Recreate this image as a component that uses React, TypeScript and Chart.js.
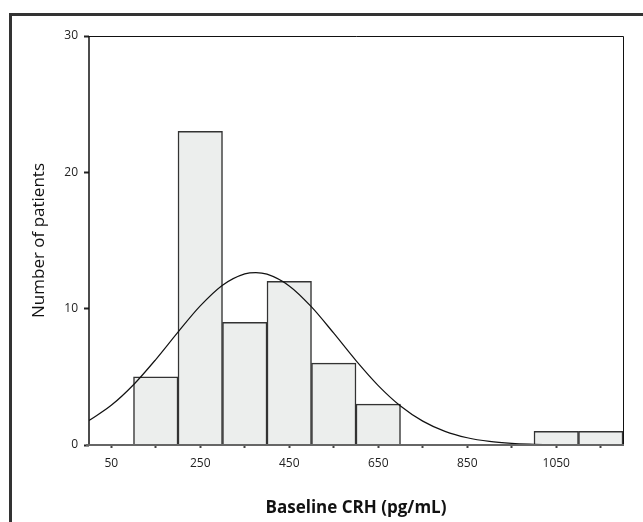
import React, { useEffect, useRef } from "react";
import { Chart, registerables } from "chart.js";

Chart.register(...registerables);

// Histogram bins (centre of each 100-wide bin) and patient counts
const binCenters = [150, 250, 350, 450, 550, 650, 1050, 1150];
const binCounts = [5, 23, 9, 12, 6, 3, 1, 1];

// Fitted normal curve
const curveX = [0, 50, 100, 150, 200, 250, 300, 350, 375, 400, 450, 500, 550, 600, 650, 700, 750, 800, 850, 900, 950, 1000, 1030];
const curveY = [1.79, 2.91, 4.42, 6.27, 8.28, 10.2, 11.72, 12.55, 12.65, 12.53, 11.67, 10.13, 8.2, 6.19, 4.36, 2.86, 1.75, 1.0, 0.53, 0.26, 0.12, 0.05, 0.02];

// Axis ticks
const xTickValues = [50, 150, 250, 350, 450, 550, 650, 750, 850, 950, 1050, 1150];
const xTickLabels = ["50", "250", "450", "650", "850", "1050"];
const yTickValues = [0, 10, 20, 30];

const xTitle = "Baseline CRH (pg/mL)";
const yTitle = "Number of patients";

const framePlugin = {
  id: "framePlugin",
  afterDatasetsDraw(chart: any) {
    const { ctx, chartArea } = chart;
    const { left, right, top, bottom } = chartArea;
    ctx.save();
    ctx.strokeStyle = "#111";
    ctx.lineWidth = 1;
    ctx.beginPath();
    ctx.moveTo(left, top + 0.5);
    ctx.lineTo(right + 0.5, top + 0.5);
    ctx.lineTo(right + 0.5, bottom);
    ctx.stroke();
    ctx.lineWidth = 1.5;
    ctx.beginPath();
    ctx.moveTo(left, top);
    ctx.lineTo(left, bottom);
    ctx.stroke();
    ctx.strokeStyle = "#666";
    ctx.lineWidth = 2;
    ctx.beginPath();
    ctx.moveTo(left - 3, bottom);
    ctx.lineTo(right + 1, bottom);
    ctx.stroke();
    ctx.restore();
  },
};

export default function App() {
  const canvasRef = useRef<HTMLCanvasElement | null>(null);

  useEffect(() => {
    if (!canvasRef.current) return;
    Chart.defaults.font.family = "'Open Sans', 'Noto Sans', sans-serif";
    const chart = new Chart(canvasRef.current, {
      type: "bar",
      data: {
        datasets: [
          {
            type: "line",
            data: curveX.map((x, i) => ({ x, y: curveY[i] })),
            borderColor: "#111",
            borderWidth: 1.2,
            pointRadius: 0,
            cubicInterpolationMode: "monotone",
            fill: false,
            order: 0,
          } as any,
          {
            type: "bar",
            data: binCenters.map((x, i) => ({ x, y: binCounts[i] })),
            backgroundColor: "#eceeed",
            borderColor: "#333",
            borderWidth: 1.5,
            barPercentage: 1,
            categoryPercentage: 1,
            grouped: false,
            order: 1,
          } as any,
        ],
      },
      options: {
        animation: false,
        responsive: false,
        devicePixelRatio: 1,
        layout: { padding: { left: 0, top: 36, right: 20, bottom: 0 } },
        plugins: {
          legend: { display: false },
          tooltip: { enabled: false },
        },
        scales: {
          x: {
            type: "linear",
            min: 0,
            max: 1200,
            offset: false,
            afterBuildTicks: (scale: any) => {
              scale.ticks = xTickValues.map((v) => ({ value: v }));
            },
            afterFit: (scale: any) => {
              scale.height = 77;
            },
            ticks: {
              autoSkip: false,
              maxRotation: 0,
              padding: 8,
              color: "#222",
              font: { size: 12 },
              callback: (v: any) => (xTickLabels.includes(String(v)) ? String(v) : ""),
            },
            grid: {
              display: true,
              drawOnChartArea: false,
              drawTicks: true,
              tickLength: 3,
              tickWidth: 2,
              tickColor: "#444",
              offset: false,
            },
            border: { display: false },
            title: {
              display: true,
              text: xTitle,
              color: "#111",
              font: { size: 17, weight: "bold" },
              padding: { top: 0, bottom: 4 },
            },
          },
          y: {
            type: "linear",
            min: 0,
            max: 30,
            afterBuildTicks: (scale: any) => {
              scale.ticks = yTickValues.map((v) => ({ value: v }));
            },
            afterFit: (scale: any) => {
              scale.width = 89;
            },
            ticks: {
              padding: 6,
              color: "#222",
              font: { size: 12 },
            },
            grid: {
              display: true,
              drawOnChartArea: false,
              drawTicks: true,
              tickLength: 5,
              tickWidth: 2,
              tickColor: "#222",
            },
            border: { display: false },
            title: {
              display: true,
              text: yTitle,
              color: "#111",
              font: { size: 17 },
              padding: { top: 29, bottom: 0 },
            },
          },
        },
      },
      plugins: [framePlugin],
    } as any);
    return () => chart.destroy();
  }, []);

  return (
    <div style={{ position: "absolute", left: 0, top: 0, width: 643, height: 522, background: "#fff" }}>
      <div
        style={{
          position: "absolute",
          left: 9,
          top: 13,
          right: 0,
          bottom: 0,
          borderLeft: "3px solid #333",
          borderTop: "3px solid #333",
        }}
      />
      <canvas ref={canvasRef} width={643} height={522} style={{ position: "absolute", left: 0, top: 0 }} />
    </div>
  );
}
